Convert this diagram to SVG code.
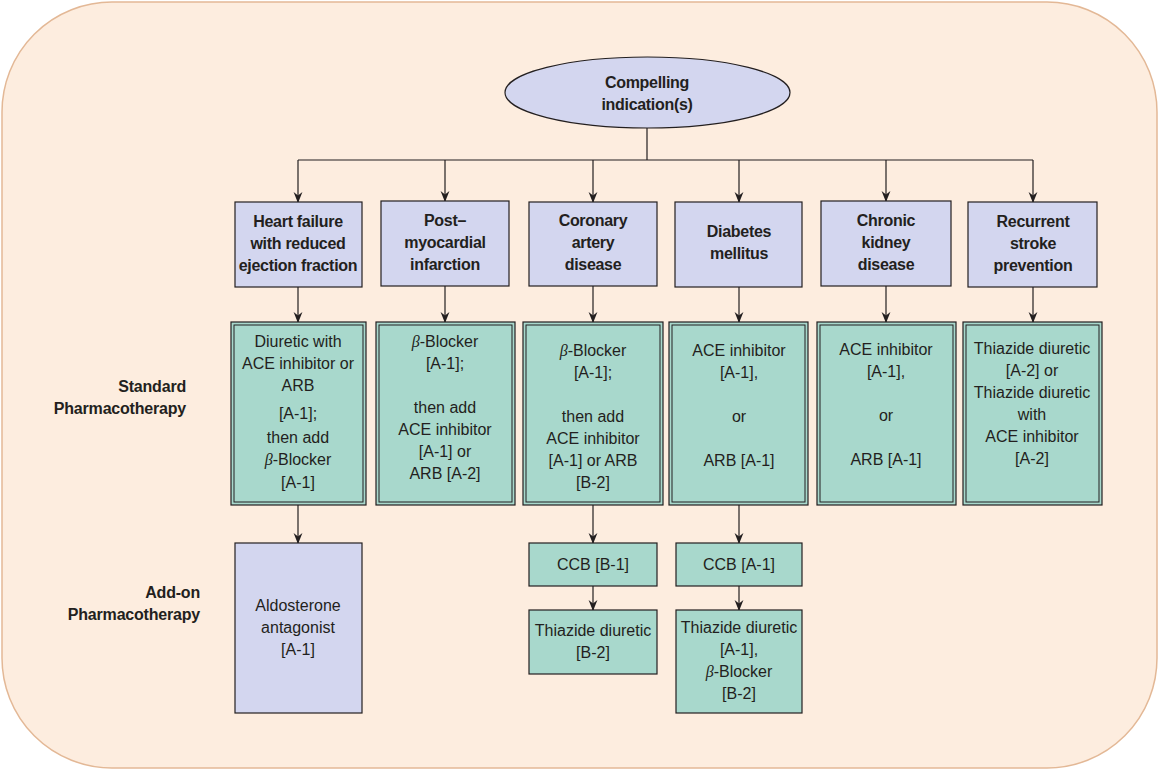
<svg xmlns="http://www.w3.org/2000/svg" width="1159" height="771" viewBox="0 0 1159 771">
<defs>
<marker id="ah" viewBox="0 0 10 10" refX="9" refY="5" markerWidth="11" markerHeight="11" markerUnits="userSpaceOnUse" orient="auto">
<path d="M0,1 L10,5 L0,9 L3,5 Z" fill="#231f20"/>
</marker>
<style>
text{font-family:"Liberation Sans Narrow","Liberation Sans",Arial,sans-serif;font-size:16px;fill:#231f20;text-anchor:middle}
.b{font-weight:bold;letter-spacing:-0.3px}
.lab{font-weight:bold;text-anchor:end;letter-spacing:-0.2px}
.beta{font-family:"Liberation Serif",serif;font-style:italic}
.hdr{fill:#d3d6ef;stroke:#231f20;stroke-width:1.2}
.std{fill:#a8d8cc;stroke:#231f20;stroke-width:1.2}
.inner{fill:none;stroke:#231f20;stroke-width:1}
.add{fill:#a8d8cc;stroke:#231f20;stroke-width:1.2}
.addl{fill:#d3d6ef;stroke:#231f20;stroke-width:1.2}
.c{fill:none;stroke:#231f20;stroke-width:1.2}
.a{fill:none;stroke:#231f20;stroke-width:1.2;marker-end:url(#ah)}
</style>
</defs>
<rect x="2" y="2" width="1155" height="766" rx="110" ry="110" fill="#fdeddf" stroke="#e3b896" stroke-width="1.5"/>

<g id="labels">
<text class="lab" x="186" y="392">Standard</text>
<text class="lab" x="186" y="414">Pharmacotherapy</text>
<text class="lab" x="200" y="598">Add-on</text>
<text class="lab" x="200" y="620">Pharmacotherapy</text>
</g>

<g id="connectors">
<path class="c" d="M647,128 V160 M298,160 H1033"/>
<path class="a" d="M298,160 V202"/>
<path class="a" d="M445,160 V201"/>
<path class="a" d="M593,160 V202"/>
<path class="a" d="M739,160 V202"/>
<path class="a" d="M886,160 V201"/>
<path class="a" d="M1033,160 V202"/>
<path class="a" d="M298,287 V322"/>
<path class="a" d="M445,286 V322"/>
<path class="a" d="M593,286 V322"/>
<path class="a" d="M739,287 V322"/>
<path class="a" d="M886,286 V322"/>
<path class="a" d="M1033,287 V322"/>
<path class="a" d="M298,505 V543"/>
<path class="a" d="M593,505 V543"/>
<path class="a" d="M739,505 V543"/>
<path class="a" d="M593,586 V610"/>
<path class="a" d="M739,586 V610"/>
</g>

<g id="root">
<ellipse cx="647.5" cy="92.5" rx="142.5" ry="35.5" fill="#d3d6ef" stroke="#231f20" stroke-width="1.2"/>
<text class="b" x="647" y="88">Compelling</text>
<text class="b" x="647" y="110">indication(s)</text>
</g>

<g id="h1"><rect class="hdr" x="235" y="202" width="127" height="85"/>
<text class="b" x="298" y="227">Heart failure</text><text class="b" x="298" y="249">with reduced</text><text class="b" x="298" y="271">ejection fraction</text></g>
<g id="h2"><rect class="hdr" x="381" y="201" width="128" height="85"/>
<text class="b" x="445" y="226">Post–</text><text class="b" x="445" y="248">myocardial</text><text class="b" x="445" y="270">infarction</text></g>
<g id="h3"><rect class="hdr" x="529" y="202" width="128" height="84"/>
<text class="b" x="593" y="226">Coronary</text><text class="b" x="593" y="248">artery</text><text class="b" x="593" y="270">disease</text></g>
<g id="h4"><rect class="hdr" x="675" y="202" width="127" height="85"/>
<text class="b" x="739" y="237">Diabetes</text><text class="b" x="739" y="259">mellitus</text></g>
<g id="h5"><rect class="hdr" x="821" y="201" width="130" height="85"/>
<text class="b" x="886" y="226">Chronic</text><text class="b" x="886" y="248">kidney</text><text class="b" x="886" y="270">disease</text></g>
<g id="h6"><rect class="hdr" x="968" y="202" width="129" height="85"/>
<text class="b" x="1033" y="227">Recurrent</text><text class="b" x="1033" y="249">stroke</text><text class="b" x="1033" y="271">prevention</text></g>

<g id="s1"><rect class="std" x="231" y="322" width="135" height="183"/><rect class="inner" x="234" y="325" width="129" height="177"/>
<text x="298" y="347">Diuretic with</text><text x="298" y="369">ACE inhibitor or</text><text x="298" y="391">ARB</text>
<text x="298" y="419">[A-1];</text><text x="298" y="443">then add</text><text x="298" y="465"><tspan class="beta">β</tspan>-Blocker</text><text x="298" y="488">[A-1]</text></g>
<g id="s2"><rect class="std" x="376" y="322" width="139" height="183"/><rect class="inner" x="379" y="325" width="133" height="177"/>
<text x="445" y="347"><tspan class="beta">β</tspan>-Blocker</text><text x="445" y="369">[A-1];</text>
<text x="445" y="413">then add</text><text x="445" y="435">ACE inhibitor</text><text x="445" y="457">[A-1] or</text><text x="445" y="479">ARB [A-2]</text></g>
<g id="s3"><rect class="std" x="523" y="322" width="140" height="183"/><rect class="inner" x="526" y="325" width="134" height="177"/>
<text x="593" y="356"><tspan class="beta">β</tspan>-Blocker</text><text x="593" y="378">[A-1];</text>
<text x="593" y="422">then add</text><text x="593" y="444">ACE inhibitor</text><text x="593" y="466">[A-1] or ARB</text><text x="593" y="488">[B-2]</text></g>
<g id="s4"><rect class="std" x="669" y="322" width="139" height="183"/><rect class="inner" x="672" y="325" width="133" height="177"/>
<text x="739" y="356">ACE inhibitor</text><text x="739" y="378">[A-1],</text>
<text x="739" y="422">or</text><text x="739" y="466">ARB [A-1]</text></g>
<g id="s5"><rect class="std" x="817" y="322" width="139" height="183"/><rect class="inner" x="820" y="325" width="133" height="177"/>
<text x="886" y="355">ACE inhibitor</text><text x="886" y="377">[A-1],</text>
<text x="886" y="421">or</text><text x="886" y="465">ARB [A-1]</text></g>
<g id="s6"><rect class="std" x="963" y="322" width="139" height="183"/><rect class="inner" x="966" y="325" width="133" height="177"/>
<text x="1032" y="354">Thiazide diuretic</text><text x="1032" y="376">[A-2] or</text><text x="1032" y="398">Thiazide diuretic</text>
<text x="1032" y="420">with</text><text x="1032" y="442">ACE inhibitor</text><text x="1032" y="464">[A-2]</text></g>

<g id="a1"><rect class="addl" x="235" y="543" width="127" height="170"/>
<text x="298" y="611">Aldosterone</text><text x="298" y="633">antagonist</text><text x="298" y="655">[A-1]</text></g>
<g id="a2"><rect class="add" x="529" y="543" width="128" height="43"/>
<text x="593" y="570">CCB [B-1]</text></g>
<g id="a3"><rect class="add" x="529" y="610" width="128" height="64"/>
<text x="593" y="636">Thiazide diuretic</text><text x="593" y="658">[B-2]</text></g>
<g id="a4"><rect class="add" x="676" y="543" width="126" height="43"/>
<text x="739" y="570">CCB [A-1]</text></g>
<g id="a5"><rect class="add" x="676" y="610" width="126" height="103"/>
<text x="739" y="633">Thiazide diuretic</text><text x="739" y="655">[A-1],</text><text x="739" y="677"><tspan class="beta">β</tspan>-Blocker</text><text x="739" y="699">[B-2]</text></g>
</svg>
